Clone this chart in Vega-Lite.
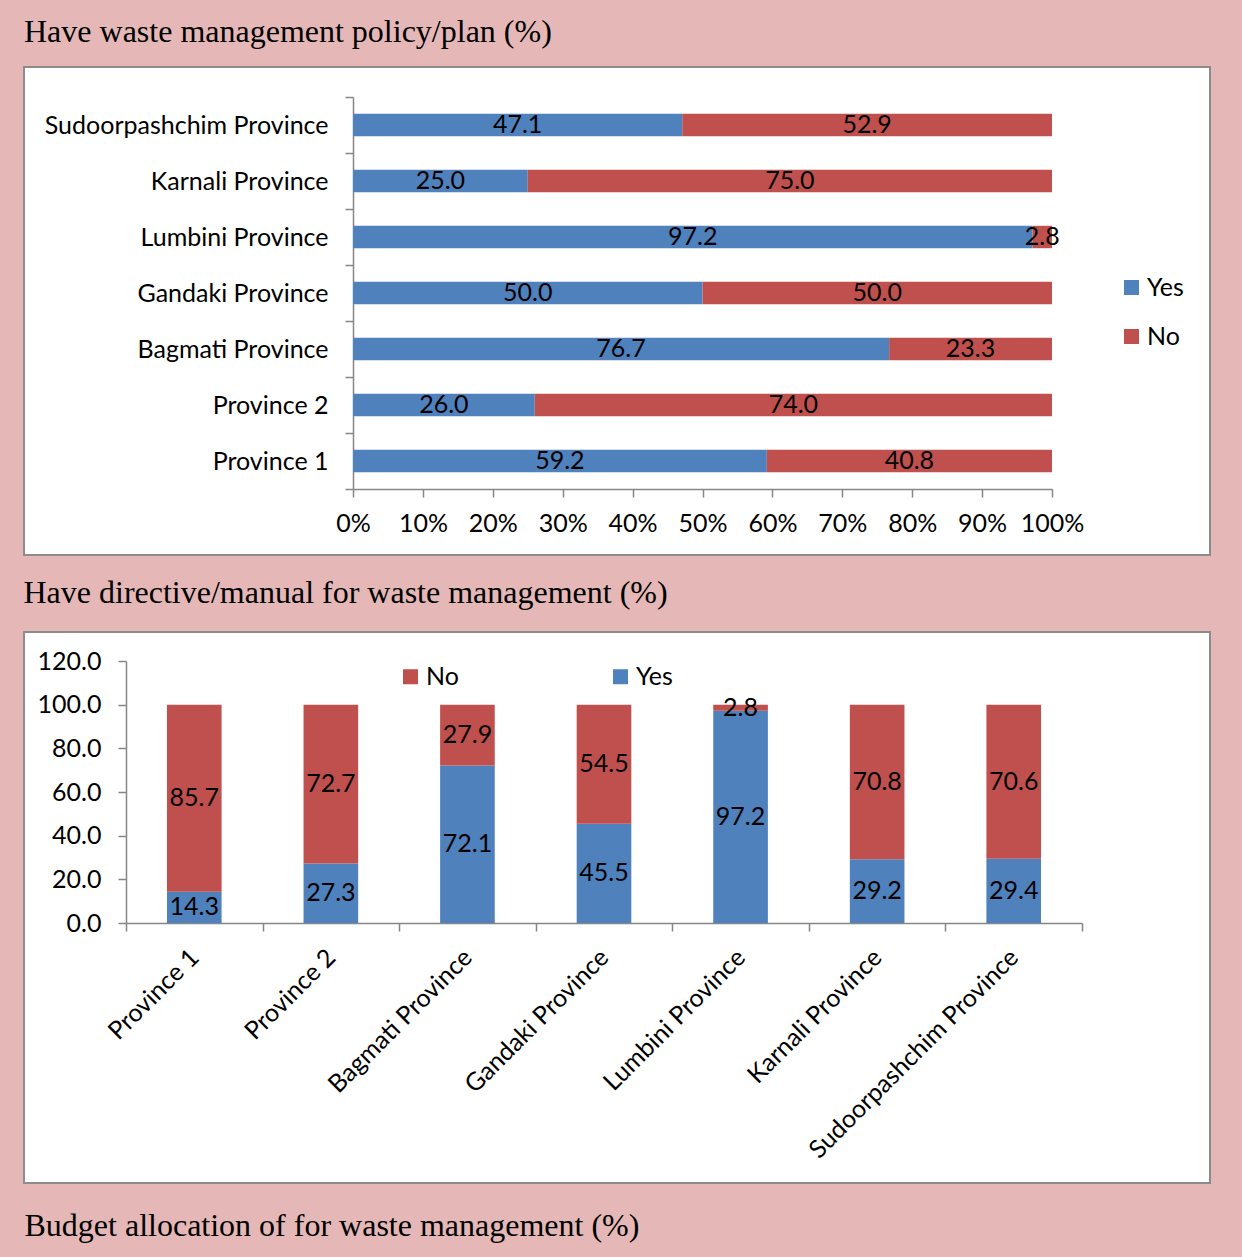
{
  "$schema": "https://vega.github.io/schema/vega-lite/v6.json",
  "background": "#E5B8B7",
  "padding": {"left": 14, "top": 15, "right": 32, "bottom": 15},
  "spacing": 20,
  "title": {"text": "Budget allocation of for waste management (%)", "orient": "bottom", "anchor": "start", "font": "Liberation Serif", "fontSize": 32, "fontWeight": "normal", "color": "black", "offset": 27, "dx": 10},
  "config": {
    "view": {"fill": "white", "stroke": "#8C8C8C", "strokeWidth": 2},
    "title": {"font": "Liberation Serif", "fontSize": 32, "fontWeight": "normal", "color": "black", "anchor": "start"},
    "axis": {"grid": false, "labelFont": "Lato", "labelFontSize": 25, "labelColor": "black", "labelLimit": 0, "labelOverlap": false, "labelFlush": false, "domainColor": "#868686", "tickColor": "#868686", "domainWidth": 1.5, "tickWidth": 1.5, "tickSize": 8, "title": null, "minExtent": 0, "maxExtent": 0},
    "legend": {"labelFont": "Lato", "labelFontSize": 25, "labelColor": "black", "symbolType": "square", "symbolSize": 225, "symbolStrokeWidth": 0, "symbolOpacity": 1, "padding": 0, "labelOffset": 3, "title": null}
  },
  "resolve": {"scale": {"color": "independent", "x": "independent", "y": "independent"}, "legend": {"color": "independent"}},
  "vconcat": [
    {
      "width": 1186,
      "height": 488,
      "title": {"text": "Have waste management policy/plan (%)", "offset": 6},
      "data": {"values": [
        {"province": "Province 1", "answer": "Yes", "value": 59.2},
        {"province": "Province 1", "answer": "No", "value": 40.8},
        {"province": "Province 2", "answer": "Yes", "value": 26.0},
        {"province": "Province 2", "answer": "No", "value": 74.0},
        {"province": "Bagmati Province", "answer": "Yes", "value": 76.7},
        {"province": "Bagmati Province", "answer": "No", "value": 23.3},
        {"province": "Gandaki Province", "answer": "Yes", "value": 50.0},
        {"province": "Gandaki Province", "answer": "No", "value": 50.0},
        {"province": "Lumbini Province", "answer": "Yes", "value": 97.2},
        {"province": "Lumbini Province", "answer": "No", "value": 2.8},
        {"province": "Karnali Province", "answer": "Yes", "value": 25.0},
        {"province": "Karnali Province", "answer": "No", "value": 75.0},
        {"province": "Sudoorpashchim Province", "answer": "Yes", "value": 47.1},
        {"province": "Sudoorpashchim Province", "answer": "No", "value": 52.9}
      ]},
      "encoding": {
        "y": {"field": "province", "type": "nominal",
          "sort": ["Sudoorpashchim Province", "Karnali Province", "Lumbini Province", "Gandaki Province", "Bagmati Province", "Province 2", "Province 1"],
          "scale": {"range": [30, 422], "paddingInner": 0, "paddingOuter": 0},
          "axis": {"offset": -329, "tickBand": "extent", "labelPadding": 17}},
        "order": {"field": "answer", "sort": "descending"}
      },
      "layer": [
        {"mark": {"type": "bar", "height": {"band": 0.4}},
          "encoding": {
            "x": {"field": "value", "type": "quantitative", "stack": "zero",
              "scale": {"domain": [0, 100], "range": [329, 1028], "nice": false},
              "axis": {"offset": -66, "values": [0, 10, 20, 30, 40, 50, 60, 70, 80, 90, 100], "labelExpr": "datum.value + '%'", "labelPadding": 14}},
            "color": {"field": "answer", "type": "nominal",
              "scale": {"domain": ["Yes", "No"], "range": ["#4F81BD", "#C0504D"]},
              "legend": {"orient": "none", "legendX": 1095, "legendY": 208, "direction": "vertical", "rowPadding": 23}}}},
        {"mark": {"type": "text", "font": "Lato", "fontSize": 25, "color": "black"},
          "encoding": {
            "x": {"field": "value", "type": "quantitative", "stack": "zero", "bandPosition": 0.5},
            "text": {"field": "value", "type": "quantitative", "format": ".1f"}}}
      ]
    },
    {
      "width": 1186,
      "height": 551,
      "title": {"text": "Have directive/manual for waste management (%)", "offset": 22, "dx": 8},
      "data": {"values": [
        {"province": "Province 1", "answer": "Yes", "value": 14.3},
        {"province": "Province 1", "answer": "No", "value": 85.7},
        {"province": "Province 2", "answer": "Yes", "value": 27.3},
        {"province": "Province 2", "answer": "No", "value": 72.7},
        {"province": "Bagmati Province", "answer": "Yes", "value": 72.1},
        {"province": "Bagmati Province", "answer": "No", "value": 27.9},
        {"province": "Gandaki Province", "answer": "Yes", "value": 45.5},
        {"province": "Gandaki Province", "answer": "No", "value": 54.5},
        {"province": "Lumbini Province", "answer": "Yes", "value": 97.2},
        {"province": "Lumbini Province", "answer": "No", "value": 2.8},
        {"province": "Karnali Province", "answer": "Yes", "value": 29.2},
        {"province": "Karnali Province", "answer": "No", "value": 70.8},
        {"province": "Sudoorpashchim Province", "answer": "Yes", "value": 29.4},
        {"province": "Sudoorpashchim Province", "answer": "No", "value": 70.6}
      ]},
      "encoding": {
        "x": {"field": "province", "type": "nominal",
          "sort": ["Province 1", "Province 2", "Bagmati Province", "Gandaki Province", "Lumbini Province", "Karnali Province", "Sudoorpashchim Province"],
          "scale": {"range": [102, 1058], "paddingInner": 0, "paddingOuter": 0},
          "axis": {"offset": -260, "tickBand": "extent", "labelAngle": -45, "labelAlign": "right", "labelBaseline": "middle", "labelPadding": 22}},
        "order": {"field": "answer", "sort": "descending"}
      },
      "layer": [
        {"mark": {"type": "bar", "width": {"band": 0.4}},
          "encoding": {
            "y": {"field": "value", "type": "quantitative", "stack": "zero",
              "scale": {"domain": [0, 120], "range": [291, 29], "nice": false},
              "axis": {"offset": -102, "values": [0, 20, 40, 60, 80, 100, 120], "format": ".1f", "labelPadding": 17}},
            "color": {"field": "answer", "type": "nominal",
              "scale": {"domain": ["No", "Yes"], "range": ["#C0504D", "#4F81BD"]},
              "legend": {"orient": "none", "legendX": 374, "legendY": 32, "direction": "horizontal", "columns": 2, "columnPadding": 149}}}},
        {"mark": {"type": "text", "font": "Lato", "fontSize": 25, "color": "black"},
          "encoding": {
            "y": {"field": "value", "type": "quantitative", "stack": "zero", "bandPosition": 0.5},
            "text": {"field": "value", "type": "quantitative", "format": ".1f"}}}
      ]
    }
  ]
}
